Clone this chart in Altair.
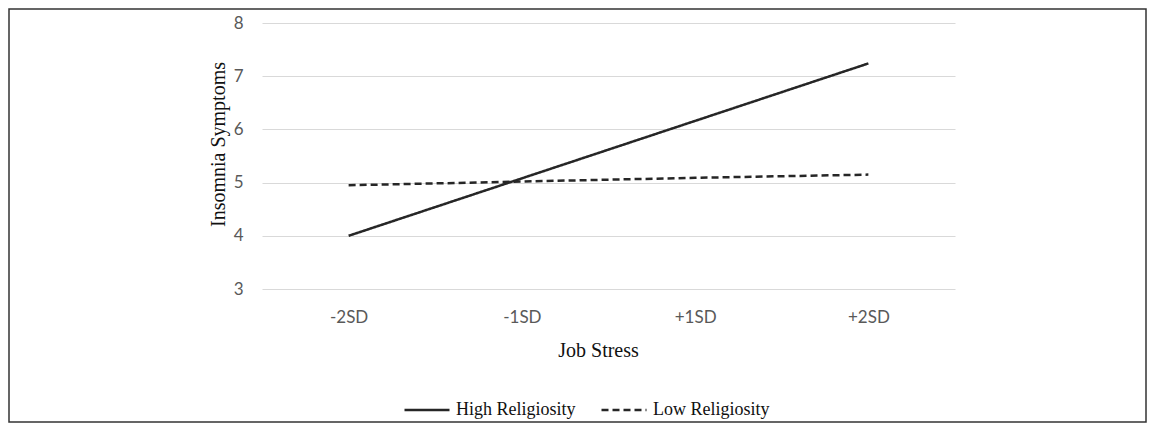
import altair as alt
import pandas as pd

stress_levels = ["-2SD", "-1SD", "+1SD", "+2SD"]
high_religiosity = [4.00, 5.08, 6.16, 7.24]
low_religiosity = [4.95, 5.02, 5.09, 5.15]
groups = ["High Religiosity", "Low Religiosity"]
y_ticks = [3, 4, 5, 6, 7, 8]

rows = []
for s, v in zip(stress_levels, high_religiosity):
    rows.append({"stress": s, "value": v, "group": groups[0]})
for s, v in zip(stress_levels, low_religiosity):
    rows.append({"stress": s, "value": v, "group": groups[1]})
df = pd.DataFrame(rows)

W, H = 693, 266

lines = alt.Chart(df).mark_line(color="#262626", strokeWidth=2.5).encode(
    x=alt.X("stress:O", sort=stress_levels,
            scale=alt.Scale(type="point", padding=0.5),
            axis=alt.Axis(title="Job Stress", labelAngle=0, domain=False, ticks=False,
                          labelFont="Lato", labelFontSize=17, labelColor="#595959",
                          labelPadding=20, grid=False,
                          titleFont="Liberation Serif", titleFontSize=20, titleFontWeight="normal",
                          titleColor="#111111", titleX=336, titleY=67, titleAlign="center",
                          titleBaseline="alphabetic")),
    y=alt.Y("value:Q", scale=alt.Scale(domain=[3, 8], nice=False, zero=False),
            axis=alt.Axis(title="Insomnia Symptoms", values=y_ticks, domain=False, ticks=False,
                          labelFont="Lato", labelFontSize=17, labelColor="#595959",
                          labelPadding=19, gridColor="#d9d9d9", gridWidth=1.2,
                          titleFont="Liberation Serif", titleFontSize=20, titleFontWeight="normal",
                          titleColor="#111111", titleX=-38, titleY=121, titleAngle=-90,
                          titleAlign="center", titleBaseline="alphabetic")),
    strokeDash=alt.StrokeDash("group:N",
                              scale=alt.Scale(domain=groups, range=[[1, 0], [7, 4]]),
                              legend=alt.Legend(title=None, orient="none", legendX=141, legendY=363,
                                                direction="horizontal", symbolType="stroke",
                                                symbolSize=2025, symbolStrokeWidth=2.5,
                                                symbolStrokeColor="#262626",
                                                labelFont="Liberation Serif", labelFontSize=18,
                                                labelColor="#111111", labelOffset=5,
                                                columnPadding=20, padding=0)),
    detail="group:N",
)

frame = alt.Chart(pd.DataFrame({"a": [0]})).mark_rect(
    fillOpacity=0, stroke="#333333", strokeWidth=1.5
).encode(
    x=alt.value(-253), x2=alt.value(884), y=alt.value(-14), y2=alt.value(399)
)

chart = alt.layer(frame, lines).properties(
    width=W, height=H,
    autosize=alt.AutoSizeParams(type="none"),
    padding={"left": 254, "top": 15, "right": 192, "bottom": 134},
    background="white",
).configure_view(stroke=None)

chart.save("out.html", embed_options={"renderer": "svg", "actions": False})
